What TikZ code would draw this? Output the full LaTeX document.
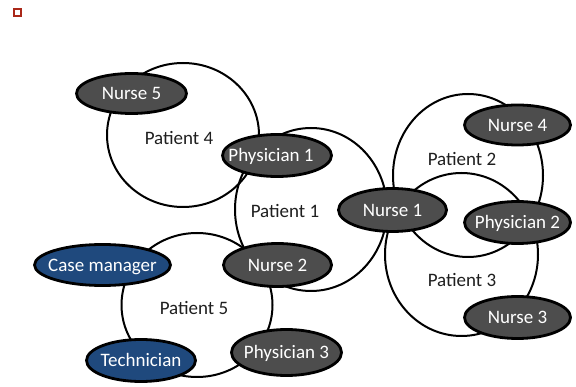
\documentclass[tikz,border=0pt]{standalone}
\usepackage{fontspec}
\setmainfont{Carlito}
\usetikzlibrary{shapes.geometric}
\definecolor{staffgray}{RGB}{77,77,77}
\definecolor{supportblue}{RGB}{31,73,125}
\definecolor{markred}{RGB}{170,40,25}
\begin{document}
\begin{tikzpicture}[x=1pt,y=-1pt,
  patient/.style={ellipse, draw=black, line width=2pt, inner sep=0pt},
  staff/.style={ellipse, draw=black, line width=2.8pt, fill=staffgray,
    inner sep=0pt, minimum width=108pt, minimum height=42pt},
  support/.style={staff, fill=supportblue},
  staffname/.style={text=white, font=\fontsize{19}{22}\selectfont,
    inner sep=0pt, text height=12.2pt, text depth=0pt},
  patientname/.style={text=black!88, font=\fontsize{19}{22}\selectfont,
    inner sep=0pt, text height=12.2pt, text depth=0pt},
  marker/.style={rectangle, draw=markred, line width=1.8pt, fill=white,
    inner sep=0pt, minimum size=7pt}
]
% canvas
\fill[white] (0,0) rectangle (576,387);
\useasboundingbox (0,0) rectangle (576,387);

% small marker in the corner
\node[marker] (mark) at (17.8,12.8) {};

% patient circles (outlines only)
\node[patient, minimum width=152pt, minimum height=144pt] (p4) at (183,135) {};
\node[patient, minimum width=151pt, minimum height=144pt] (p5) at (197,305) {};
\node[patient, minimum width=152pt, minimum height=163pt] (p1) at (311,209.5) {};
\node[patient, minimum width=150pt, minimum height=163pt] (p2) at (468,175.5) {};
\node[patient, minimum width=153pt, minimum height=163pt] (p3) at (461.5,254.5) {};

% care team members
\node[staff, minimum width=110pt, minimum height=40pt] (nurse5) at (131.5,93.5)
  {}; \node[staffname] (nurse5t) at (nurse5) {Nurse 5};
\node[staff, minimum width=109pt] (phys1) at (277,155.5) {};
\node[staffname] (phys1t) at ([xshift=-6pt]phys1.center) {Physician 1};
\node[staff, minimum width=106pt, minimum height=40pt] (nurse4) at (517.5,125) {};
\node[staffname] (nurse4t) at (nurse4) {Nurse 4};
\node[staff, minimum height=43pt] (nurse1) at (392.5,210) {};
\node[staffname] (nurse1t) at (nurse1) {Nurse 1};
\node[staff, minimum width=106pt] (phys2) at (517.5,222.5) {};
\node[staffname] (phys2t) at (phys2) {Physician 2};
\node[staff, minimum width=106pt] (nurse3) at (517.5,317.5) {};
\node[staffname] (nurse3t) at (nurse3) {Nurse 3};
\node[support, minimum width=136pt, minimum height=41pt] (casemgr) at (102.5,265) {};
\node[staffname] (casemgrt) at (casemgr) {Case manager};
\node[staff, minimum height=43pt] (nurse2) at (277.5,265) {};
\node[staffname] (nurse2t) at (nurse2) {Nurse 2};
\node[support, minimum width=109pt] (tech) at (141,360.5) {};
\node[staffname] (techt) at (tech) {Technician};
\node[staff, minimum width=110pt, minimum height=46pt] (phys3) at (286.5,352.5) {};
\node[staffname] (phys3t) at (phys3) {Physician 3};

% patient names
\node[patientname] (p4t) at (179,138) {Patient 4};
\node[patientname] (p1t) at (285,211.5) {Patient 1};
\node[patientname] (p2t) at (462,159) {Patient 2};
\node[patientname] (p3t) at (462,280) {Patient 3};
\node[patientname] (p5t) at (194,308) {Patient 5};
\end{tikzpicture}
\end{document}
